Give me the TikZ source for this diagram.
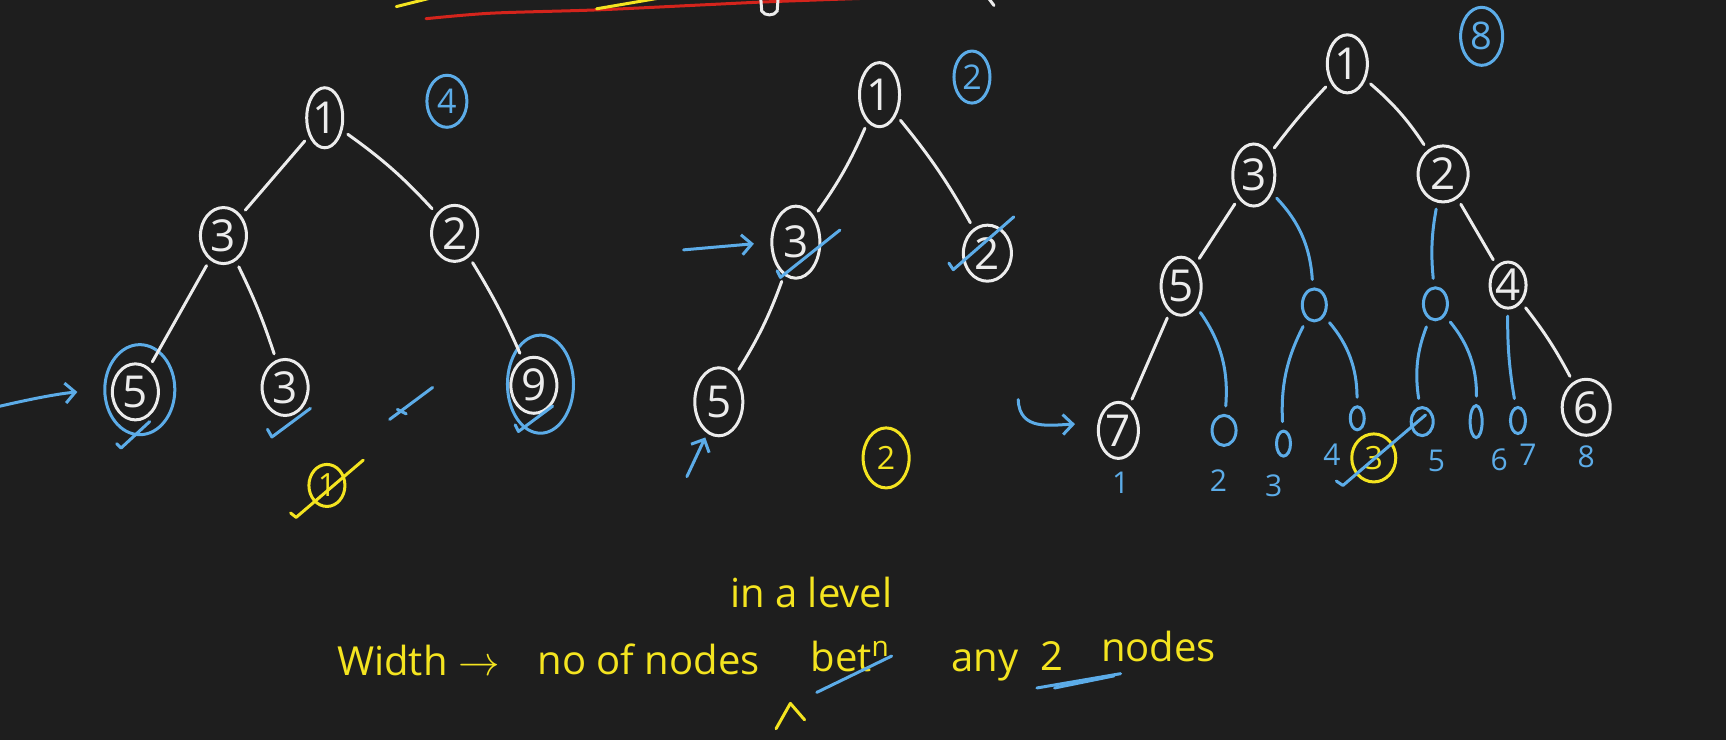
\documentclass[tikz,border=0pt]{standalone}
\usepackage{fontspec}
\setmainfont{Open Sans}
\usetikzlibrary{arrows.meta, shapes.geometric, calc}
\definecolor{board}{RGB}{30,30,30}
\definecolor{chalk}{RGB}{236,236,236}
\definecolor{sky}{RGB}{92,172,232}
\definecolor{marker}{RGB}{244,228,32}
\definecolor{redpen}{RGB}{212,36,28}
\tikzset{
  tnode/.style = {
    ellipse, draw=chalk, line width=1.5pt,
    text=chalk, font=\fontsize{22}{24}\selectfont,
    minimum width=23pt, minimum height=28pt,
    inner sep=0pt, outer sep=0pt
  },
  cnt/.style  = {tnode, draw=sky, text=sky, font=\fontsize{17}{19}\selectfont},
  ycnt/.style = {tnode, draw=marker, text=marker, font=\fontsize{16}{18}\selectfont},
  ring/.style = {ellipse, draw=sky, line width=1.5pt, inner sep=0pt},
  nul/.style  = {ellipse, draw=sky, line width=1.5pt, inner sep=0pt,
                 minimum width=12pt, minimum height=16pt},
  num/.style  = {text=sky, font=\fontsize{15}{17}\selectfont, inner sep=0pt},
  note/.style = {text=marker, font=\fontsize{20}{22}\selectfont, inner sep=0pt},
  edg/.style  = {chalk, line width=1.5pt, line cap=round,
                 shorten >=4pt, shorten <=4pt},
  bedg/.style = {edg, sky},
  chk/.style  = {sky, line width=1.5pt, line cap=round, line join=round},
  ychk/.style = {chk, marker},
  hint/.style = {-{Straight Barb[length=5pt,width=10pt]}, sky,
                 line width=1.5pt, line cap=round}
}

\begin{document}
\begin{tikzpicture}[x=0.55pt, y=-0.55pt]
  \useasboundingbox (0,0) rectangle (1568,672);
  \fill[board] (0,0) rectangle (1568,672);

  %% Leftover strokes at the top edge
  \draw[redpen, line width=1.5pt, line cap=round] plot[smooth]
    coordinates {(387,17) (446,12) (542,9) (637,4.5) (701,1.5) (800,-2) (900,-5)};
  \draw[ychk] (360,6) -- (400,-4);
  \draw[ychk] (542,8) -- (612,-4);
  \draw[chalk, line width=1.5pt, line cap=round] (691,-3) -- (692,10) to[bend right=60] (706,10) -- (707,-3);
  \draw[chalk, line width=1.5pt, line cap=round] (897,-3) -- (903,5);

  %% Tree 1
  \node[tnode, minimum width=18pt, minimum height=30pt] (a1) at (295,107) {1};
  \node[tnode] (a3) at (203,214) {3};
  \node[tnode] (a2) at (413,212) {2};
  \node[tnode] (a5) at (123,356) {5};
  \node[tnode] (a3b) at (259,352) {3};
  \node[tnode] (a9) at (485,350) {9};
  \node[ring, minimum width=35pt, minimum height=45pt] (a5ring) at (127,354) {};
  \node[ring, minimum width=33pt, minimum height=49pt] (a9ring) at (491,349) {};
  \node[cnt, minimum width=20pt, minimum height=26pt] (acnt) at (406,92) {4};
  \node[ycnt, minimum width=18pt, minimum height=21pt] (ay) at (297,441) {1};

  \draw[edg] (a1) -- (a3);
  \draw[edg] (a1) to[bend left=6] (a2);
  \draw[edg] (a3) -- (a5);
  \draw[edg] (a3) to[bend left=4] (a3b);
  \draw[edg] (a2) to[bend left=4] (a9);

  \coordinate (ain) at (0,369);
  \draw[hint, shorten >=13pt] (ain) to[bend left=4] (a5ring.west);

  %% ticks
  \draw[chk] (106,403) -- (110,407) -- (136,383);
  \draw[chk] (243,390) -- (247,397) -- (282,371);
  \draw[chk] (354,381) -- (393,352);
  \draw[chk] (361,372) -- (369,376);
  \draw[chk] (468,386) -- (471,392) -- (502,369);
  \draw[ychk] (264,466) -- (269,470) -- (330,418);

  %% Tree 2
  \node[tnode, minimum width=20pt, minimum height=32pt] (b1) at (799,86) {1};
  \node[tnode, minimum width=24pt, minimum height=36pt] (b3) at (723,220) {3};
  \node[tnode, minimum width=24pt, minimum height=34pt] (b5) at (653,365) {5};
  \node[tnode, minimum width=24pt, minimum height=28pt] (b2) at (897,230) {2};
  \node[cnt, minimum width=18pt, minimum height=26pt] (bcnt) at (883,70) {2};
  \node[ycnt, minimum width=23pt, minimum height=30pt] (by) at (805,416) {2};

  \draw[edg] (b1) to[bend left=6] (b3);
  \draw[edg] (b1) to[bend left=5] (b2);
  \draw[edg] (b3) to[bend left=6] (b5);

  \coordinate (bin) at (621,227);
  \coordinate (bup) at (624,433);
  \draw[hint, shorten >=9pt] (bin) -- (b3.west);
  \draw[hint, shorten >=3pt] (bup) -- (b5.250);

  \draw[chk] (706,246) -- (709,252) -- (763,209);
  \draw[chk] (862,239) -- (866,245) -- (921,197);

  %% Tree 3
  \node[tnode, minimum width=20pt, minimum height=29pt] (c1) at (1224,58) {1};
  \node[tnode, minimum width=21pt, minimum height=31pt] (c3) at (1139,159) {3};
  \node[tnode, minimum width=25pt, minimum height=28pt] (c2) at (1311,158) {2};
  \node[tnode, minimum width=20pt, minimum height=29pt] (c5) at (1073,260) {5};
  \node[tnode, minimum width=18pt, minimum height=23pt] (c4) at (1370,259) {4};
  \node[tnode, minimum width=20pt, minimum height=28pt] (c7) at (1016,391) {7};
  \node[tnode, minimum width=24pt, minimum height=28pt] (c6) at (1441,370) {6};
  \node[cnt, minimum width=21pt, minimum height=29pt, font=\fontsize{19}{21}\selectfont] (ccnt) at (1346,33) {8};

  \node[nul] (cn1) at (1194,277) {};
  \node[nul] (cn2) at (1304,276) {};
  \node[nul, minimum width=12pt, minimum height=15pt] (cm1) at (1112,391) {};
  \node[nul, minimum width=7pt, minimum height=12.5pt] (cm2) at (1166,403) {};
  \node[nul, minimum width=7pt, minimum height=11.5pt] (cm3) at (1233,380) {};
  \node[nul, minimum width=11pt, minimum height=14pt] (cm4) at (1292,383) {};
  \node[nul, minimum width=6pt, minimum height=16pt] (cm5) at (1341,383) {};
  \node[nul, minimum width=7.5pt, minimum height=13pt] (cm6) at (1379,382) {};

  \node[ycnt, minimum width=22pt, minimum height=24pt] (cy) at (1248,416) {3};

  \draw[edg] (c1) to[bend right=3] (c3);
  \draw[edg] (c1) to[bend left=8] (c2);
  \draw[edg] (c3) -- (c5);
  \draw[edg] (c2) -- (c4);
  \draw[edg] (c5) -- (c7);
  \draw[edg] (c4) to[bend left=5] (c6);

  \draw[bedg] (c3) to[bend left=20] (cn1);
  \draw[bedg] (c2) to[bend right=8] (cn2);
  \draw[bedg] (c5) to[bend left=20] (cm1);
  \draw[bedg] (cn1) to[bend right=15] (cm2);
  \draw[bedg] (cn1) to[bend left=20] (cm3);
  \draw[bedg] (cn2) to[bend right=15] (cm4);
  \draw[bedg] (cn2) to[bend left=20] (cm5);
  \draw[bedg] (c4) to[bend right=5] (cm6);

  \coordinate (cin) at (925,363);
  \draw[hint, shorten >=12pt] (cin) .. controls (926,392) and (955,386) .. (c7.160);

  \draw[chk] (1214,437) -- (1220,441) -- (1295,377);

  %% positions on the last level
  \node[num] (p1) at (1018,439) {1};
  \node[num] (p2) at (1107,437) {2};
  \node[num] (p3) at (1157,441) {3};
  \node[num] (p4) at (1210,413) {4};
  \node[num] (p5) at (1305,419) {5};
  \node[num] (p6) at (1362,418) {6};
  \node[num] (p7) at (1388,413) {7};
  \node[num] (p8) at (1441,415) {8};

  %% Definition at the bottom
  \node[note, anchor=base west] (w1) at (306,614) {Width $\rightarrow$};
  \node[note, anchor=base west] (w2) at (488,613) {no of nodes};
  \node[note, anchor=base west] (w3) at (736,610) {bet\textsuperscript{n}};
  \node[note, anchor=base west] (w4) at (663,552) {in a level};
  \node[note, anchor=base west] (w5) at (864,610) {any};
  \node[note, anchor=base west] (w6) at (945,609) {2};
  \node[note, anchor=base west] (w7) at (1000,601) {nodes};

  \draw[chk] (742,629) -- (810,596);
  \draw[chk] (942,625) -- (1018,612);
  \draw[chk] (958,625) -- (1012,614);
  \draw[ychk] (705,662) -- (718,639) -- (731,654);
\end{tikzpicture}
\end{document}
